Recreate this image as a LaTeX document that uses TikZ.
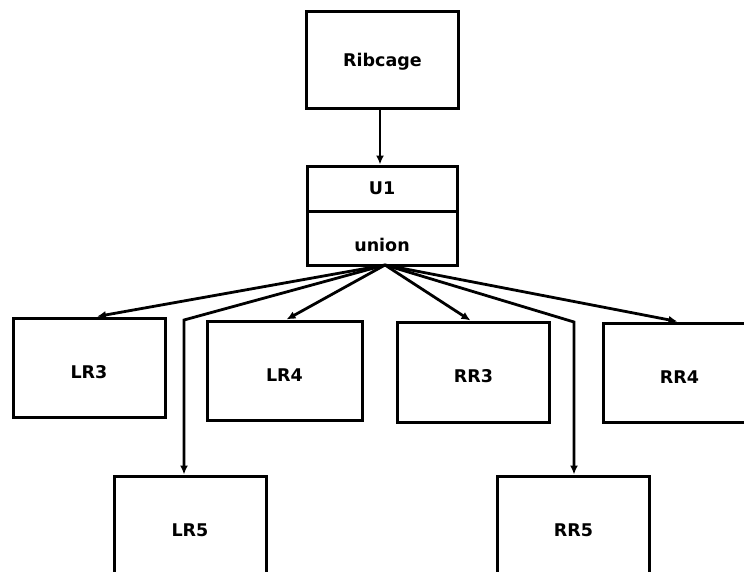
\documentclass[tikz,border=0pt]{standalone}
\usepackage{fontspec}
\setsansfont{DejaVu Sans}
\usepackage{tikz}
\usetikzlibrary{arrows.meta}

\begin{document}
\begin{tikzpicture}[x=1pt, y=-1pt,
    box/.style={draw, line width=3pt, minimum width=152pt, minimum height=99pt,
                inner sep=0pt, text height=21pt, text depth=0pt,
                font=\sffamily\bfseries\fontsize{17.5}{20}\selectfont},
    link/.style={line width=2.8pt, -{Latex[length=9pt, width=8pt]}}]

  \clip (0, 0) rectangle (744, 571);

  % root and the union node
  \node[box, minimum height=97pt, text height=18pt, text depth=4pt] (rib) at (382.5, 59.5) {Ribcage};
  \node[box, minimum width=150pt, minimum height=45pt, text height=12.5pt] (u1) at (382, 188.5) {U1};
  \node[box, minimum width=150pt, minimum height=54pt,
        text height=27pt, text depth=0pt] (union) at (382, 238) {union};

  % first row
  \node[box] (lr3) at (89, 367.5) {LR3};
  \node[box, minimum width=155pt] (lr4) at (284.5, 370.5) {LR4};
  \node[box, minimum height=100pt] (rr3) at (473.5, 372) {RR3};
  \node[box] (rr4) at (679.5, 372.5) {RR4};

  % second row
  \node[box, minimum height=100pt] (lr5) at (190, 526) {LR5};
  \node[box, minimum height=100pt] (rr5) at (573.5, 526) {RR5};

  \coordinate (fan) at (385, 265);
  \coordinate (lbend) at (184, 320);
  \coordinate (rbend) at (574, 322);

  \draw[link] ([xshift=-2.5pt]rib.south) -- ([xshift=-2pt]u1.north);
  \draw[link] (fan) -- ([xshift=8pt]lr3.north);
  \draw[link] (fan) -- ([xshift=2pt]lr4.north);
  \draw[link] (fan) -- ([xshift=-3pt]rr3.north);
  \draw[link] (fan) -- ([xshift=-2pt]rr4.north);
  \draw[link] (fan) -- (lbend) -- (lbend |- lr5.north);
  \draw[link] (fan) -- (rbend) -- (rbend |- rr5.north);

\end{tikzpicture}
\end{document}
